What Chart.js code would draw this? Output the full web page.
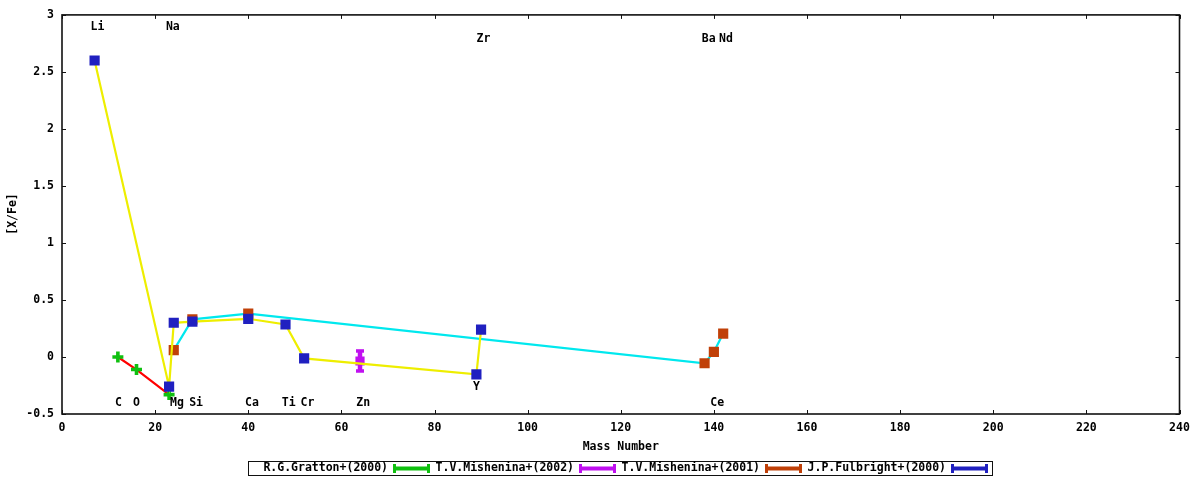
<!DOCTYPE html>
<html>
<head>
<meta charset="utf-8">
<script src="https://cdn.jsdelivr.net/npm/chart.js@4.4.0/dist/chart.umd.min.js"></script>
<style>
  html, body { margin: 0; padding: 0; background: #fff; }
  #wrap { width: 1200px; height: 480px; }
</style>
</head>
<body>
<div id="wrap"><canvas id="myChart" width="1200" height="480"></canvas></div>
<script>
// [X/Fe] abundances vs mass number, one array pair per reference
const grattonX = [12, 16, 23];
const grattonY = [0.0, -0.11, -0.33];

const mishenina02X = [64];
const mishenina02Y = [-0.035];
const mishenina02Err = [0.09];

const mishenina01X = [24, 28, 40, 138, 140, 142];
const mishenina01Y = [0.06, 0.33, 0.38, -0.055, 0.045, 0.205];

const fulbrightX = [7, 23, 24, 28, 40, 48, 52, 89, 90];
const fulbrightY = [2.6, -0.26, 0.30, 0.31, 0.335, 0.285, -0.012, -0.152, 0.24];

const seriesNames = ['R.G.Gratton+(2000)', 'T.V.Mishenina+(2002)', 'T.V.Mishenina+(2001)', 'J.P.Fulbright+(2000)'];

// element labels, placed in data coordinates
const elementNames = ['Li', 'Na', 'Zr', 'Ba', 'Nd', 'C', 'O', 'Mg', 'Si', 'Ca', 'Ti', 'Cr', 'Zn', 'Ce', 'Y'];
const elementX = [7.6, 23.8, 90.5, 138.9, 142.6, 12.1, 16.0, 24.7, 28.8, 40.8, 48.7, 52.7, 64.7, 140.7, 89.0];
const elementY = [2.89, 2.89, 2.79, 2.79, 2.79, -0.40, -0.40, -0.40, -0.40, -0.40, -0.40, -0.40, -0.40, -0.40, -0.26];

const xTicks = [0, 20, 40, 60, 80, 100, 120, 140, 160, 180, 200, 220, 240];
const yTicks = [-0.5, 0, 0.5, 1, 1.5, 2, 2.5, 3];

const FONT = 'bold 11.5px "DejaVu Sans Mono", monospace';
const pointColors = ['#10c010', '#c010f0', '#c04008', '#2020c0'];
const lineColors = ['#ff0000', null, '#00e8ee', '#eeee00'];

function toPoints(xs, ys) {
  return xs.map((x, i) => ({ x: x, y: ys[i] }));
}

// frame, inward ticks, labels, axis titles and the gnuplot style key
const gnuplotDecor = {
  id: 'gnuplotDecor',
  afterDatasetDraw(chart, args) {
    if (args.index !== 1) return;
    const { ctx, scales: { x, y } } = chart;
    ctx.save();
    ctx.strokeStyle = pointColors[1];
    ctx.fillStyle = pointColors[1];
    mishenina02X.forEach((mx, i) => {
      const px = x.getPixelForValue(mx);
      const top = y.getPixelForValue(mishenina02Y[i] + mishenina02Err[i]);
      const bot = y.getPixelForValue(mishenina02Y[i] - mishenina02Err[i]);
      ctx.lineWidth = 4.5;
      ctx.beginPath();
      ctx.moveTo(px, top);
      ctx.lineTo(px, bot);
      ctx.stroke();
      ctx.fillRect(px - 4, top - 1.5, 8, 3.5);
      ctx.fillRect(px - 4, bot - 2, 8, 3.5);
    });
    ctx.restore();
  },
  afterDraw(chart) {
    const { ctx, chartArea: a, scales: { x, y } } = chart;
    ctx.save();
    ctx.strokeStyle = '#111';
    ctx.lineWidth = 1.6;
    ctx.strokeRect(a.left, a.top, a.right - a.left, a.bottom - a.top);
    ctx.lineWidth = 1;
    ctx.beginPath();
    xTicks.forEach(v => {
      const px = Math.round(x.getPixelForValue(v)) + 0.5;
      ctx.moveTo(px, a.bottom); ctx.lineTo(px, a.bottom - 4);
      ctx.moveTo(px, a.top); ctx.lineTo(px, a.top + 4);
    });
    yTicks.forEach(v => {
      const py = Math.round(y.getPixelForValue(v)) + 0.5;
      ctx.moveTo(a.left, py); ctx.lineTo(a.left + 4, py);
      ctx.moveTo(a.right, py); ctx.lineTo(a.right - 4, py);
    });
    ctx.stroke();

    ctx.fillStyle = '#000';
    ctx.font = FONT;
    ctx.textAlign = 'center';
    ctx.textBaseline = 'middle';
    elementNames.forEach((name, i) => {
      ctx.fillText(name, x.getPixelForValue(elementX[i]), y.getPixelForValue(elementY[i]));
    });

    ctx.fillText('Mass Number', (a.left + a.right) / 2, 447);
    ctx.save();
    ctx.translate(13, 214);
    ctx.rotate(-Math.PI / 2);
    ctx.fillText('[X/Fe]', 0, 0);
    ctx.restore();

    // key
    const keyLeft = 248, keyTop = 461, entryW = 186;
    ctx.strokeStyle = '#111';
    ctx.lineWidth = 1;
    ctx.strokeRect(keyLeft + 0.5, keyTop + 0.5, entryW * seriesNames.length, 14);
    ctx.textAlign = 'right';
    seriesNames.forEach((name, i) => {
      const s = keyLeft + i * entryW;
      const cy = keyTop + 7.5;
      ctx.fillStyle = '#000';
      ctx.fillText(name, s + 140, cy);
      ctx.fillStyle = pointColors[i];
      ctx.fillRect(s + 145, cy - 2, 37, 4);
      ctx.fillRect(s + 145, cy - 4.5, 3, 9);
      ctx.fillRect(s + 179, cy - 4.5, 3, 9);
    });
    ctx.restore();
  }
};

const ctx = document.getElementById('myChart').getContext('2d');
const abundanceChart = new Chart(ctx, {
  type: 'scatter',
  data: {
    datasets: [
      {
        label: seriesNames[0],
        data: toPoints(grattonX, grattonY),
        showLine: true,
        borderColor: lineColors[0],
        borderWidth: 2.2,
        pointStyle: 'cross',
        pointRadius: 5.5,
        pointBorderWidth: 3.6,
        pointBorderColor: pointColors[0],
        pointBackgroundColor: pointColors[0],
        order: 3
      },
      {
        label: seriesNames[1],
        data: toPoints(mishenina02X, mishenina02Y),
        showLine: false,
        pointStyle: 'rect',
        pointRadius: 6.5,
        pointBorderWidth: 0,
        pointBackgroundColor: pointColors[1],
        order: 2
      },
      {
        label: seriesNames[2],
        data: toPoints(mishenina01X, mishenina01Y),
        showLine: true,
        borderColor: lineColors[2],
        borderWidth: 2.2,
        pointStyle: 'rect',
        pointRadius: 7.2,
        pointBorderWidth: 0,
        pointBackgroundColor: pointColors[2],
        order: 1
      },
      {
        label: seriesNames[3],
        data: toPoints(fulbrightX, fulbrightY),
        showLine: true,
        borderColor: lineColors[3],
        borderWidth: 2.2,
        pointStyle: 'rect',
        pointRadius: 7.2,
        pointBorderWidth: 0,
        pointBackgroundColor: pointColors[3],
        order: 0
      }
    ]
  },
  options: {
    responsive: false,
    animation: false,
    devicePixelRatio: 1,
    layout: { padding: { top: 14, right: 20.5, left: 0, bottom: 0 } },
    plugins: {
      legend: { display: false },
      tooltip: { enabled: false }
    },
    elements: { line: { tension: 0 } },
    scales: {
      x: {
        type: 'linear',
        min: 0,
        max: 240,
        afterBuildTicks: s => { s.ticks = xTicks.map(v => ({ value: v })); },
        afterFit: s => { s.height = 66; },
        grid: { display: false, drawTicks: false },
        border: { display: false },
        ticks: {
          padding: 7,
          color: '#000',
          font: { family: '"DejaVu Sans Mono", monospace', size: 11.5, weight: 'bold' },
          callback: v => String(v)
        }
      },
      y: {
        type: 'linear',
        min: -0.5,
        max: 3,
        afterBuildTicks: s => { s.ticks = yTicks.map(v => ({ value: v })); },
        afterFit: s => { s.width = 62; },
        grid: { display: false, drawTicks: false },
        border: { display: false },
        ticks: {
          padding: 8,
          color: '#000',
          font: { family: '"DejaVu Sans Mono", monospace', size: 11.5, weight: 'bold' },
          callback: v => String(v)
        }
      }
    }
  },
  plugins: [gnuplotDecor]
});
</script>
</body>
</html>
